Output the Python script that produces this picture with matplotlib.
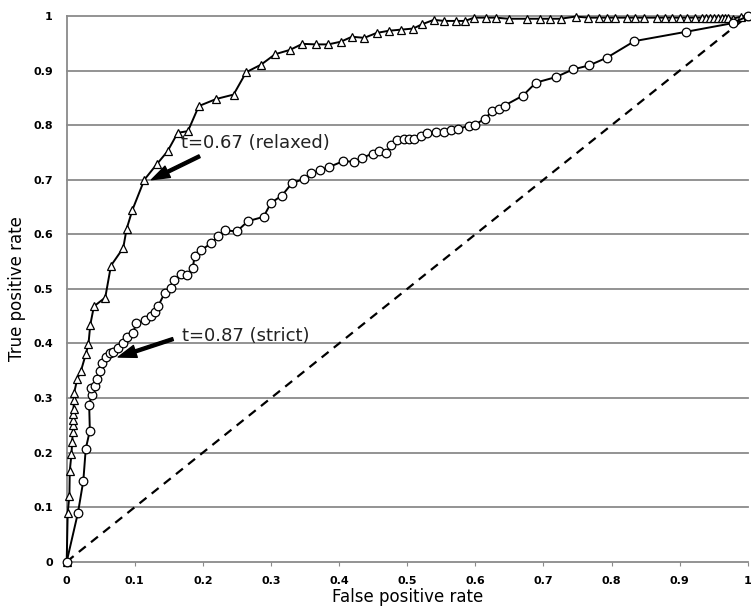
import matplotlib
matplotlib.use("Agg")
import matplotlib.pyplot as plt

# Relaxed classifier ROC (triangles)
relaxed_fpr = [0.0, 0.0015, 0.004, 0.0045, 0.007, 0.008, 0.009, 0.0095, 0.0095, 0.0098, 0.010, 0.0105, 0.011,
               0.0156, 0.021, 0.028, 0.032, 0.0346, 0.040, 0.0566, 0.065, 0.083, 0.088, 0.0966, 0.114,
               0.132, 0.148, 0.163, 0.178, 0.194, 0.2196, 0.245, 0.2635, 0.2855, 0.306, 0.328,
               0.346, 0.366, 0.384, 0.4026, 0.4187, 0.437, 0.455, 0.473, 0.4905, 0.5085, 0.522,
               0.539, 0.554, 0.571, 0.585, 0.598, 0.615, 0.63, 0.649, 0.676, 0.695, 0.71, 0.725,
               0.747, 0.766, 0.781, 0.793, 0.805, 0.822, 0.835, 0.847, 0.866, 0.878, 0.888, 0.9,
               0.91, 0.922, 0.932, 0.938, 0.944, 0.95, 0.956, 0.962, 0.966, 0.971, 0.978, 0.99, 1.0]
relaxed_tpr = [0.0, 0.09, 0.121, 0.166, 0.197, 0.219, 0.237, 0.25, 0.26, 0.27, 0.28, 0.297, 0.31,
               0.335, 0.35, 0.38, 0.399, 0.434, 0.468, 0.484, 0.5425, 0.575, 0.61, 0.645, 0.700,
               0.728, 0.752, 0.786, 0.789, 0.835, 0.848, 0.856, 0.897, 0.911, 0.930, 0.938,
               0.949, 0.948, 0.948, 0.953, 0.962, 0.960, 0.969, 0.973, 0.975, 0.977, 0.985,
               0.993, 0.991, 0.991, 0.991, 0.997, 0.997, 0.997, 0.995, 0.995, 0.995, 0.995, 0.995,
               0.999, 0.997, 0.997, 0.997, 0.997, 0.997, 0.997, 0.997, 0.997, 0.997, 0.997, 0.997,
               0.997, 0.997, 0.997, 0.997, 0.997, 0.997, 0.997, 0.997, 0.997, 0.997, 0.995, 0.999, 1.0]

# Strict classifier ROC (circles)
strict_fpr = [0.0, 0.0166, 0.0244, 0.028, 0.034, 0.033, 0.0366, 0.0356, 0.041, 0.045, 0.0488, 0.052,
              0.0575, 0.063, 0.068, 0.0756, 0.082, 0.089, 0.0976, 0.102, 0.1146, 0.124, 0.129,
              0.134, 0.144, 0.1527, 0.1576, 0.168, 0.1766, 0.185, 0.188, 0.1976, 0.2123, 0.222,
              0.2318, 0.25, 0.266, 0.289, 0.300, 0.316, 0.331, 0.349, 0.3587, 0.372, 0.3846,
              0.406, 0.422, 0.434, 0.449, 0.458, 0.469, 0.476, 0.4856, 0.495, 0.503, 0.51, 0.52,
              0.529, 0.542, 0.554, 0.564, 0.575, 0.590, 0.600, 0.614, 0.625, 0.634, 0.643,
              0.6696, 0.689, 0.718, 0.743, 0.767, 0.793, 0.8335, 0.909, 0.978, 1.0]
strict_tpr = [0.0, 0.09, 0.148, 0.207, 0.24, 0.2875, 0.3046, 0.318, 0.322, 0.335, 0.349, 0.365,
              0.376, 0.382, 0.385, 0.391, 0.40, 0.411, 0.420, 0.437, 0.442, 0.4495, 0.457,
              0.468, 0.4925, 0.5016, 0.5156, 0.528, 0.526, 0.538, 0.561, 0.5707, 0.584, 0.5963,
              0.607, 0.6055, 0.624, 0.632, 0.6576, 0.671, 0.694, 0.7016, 0.7114, 0.7175, 0.723,
              0.734, 0.733, 0.740, 0.748, 0.752, 0.749, 0.763, 0.772, 0.774, 0.774, 0.775, 0.780,
              0.785, 0.787, 0.788, 0.792, 0.793, 0.799, 0.801, 0.812, 0.826, 0.829, 0.836,
              0.854, 0.878, 0.888, 0.902, 0.9095, 0.9236, 0.954, 0.971, 0.987, 1.0]

tick_vals = [0, 0.1, 0.2, 0.3, 0.4, 0.5, 0.6, 0.7, 0.8, 0.9, 1]
tick_labels = ["0", "0.1", "0.2", "0.3", "0.4", "0.5", "0.6", "0.7", "0.8", "0.9", "1"]

fig = plt.figure(figsize=(7.51, 6.09), dpi=100)
ax = fig.add_axes([0.0888, 0.0777, 0.907, 0.896])

grid_c = "#8a8a8a"
for v in tick_vals[1:]:
    ax.axhline(v, color=grid_c, lw=1.3, zorder=1)

ax.plot([0, 1], [0, 1], ls=(0, (4, 3)), color="black", lw=1.6, zorder=2)
ax.plot(relaxed_fpr, relaxed_tpr, color="black", lw=1.4, marker="^", markersize=5.5,
        markerfacecolor="white", markeredgecolor="black", markeredgewidth=0.9, zorder=3)
ax.plot(strict_fpr, strict_tpr, color="black", lw=1.4, marker="o", markersize=6.2,
        markerfacecolor="white", markeredgecolor="black", markeredgewidth=0.9, zorder=3)

arrow = dict(facecolor="black", edgecolor="black", width=2.2, headwidth=9, headlength=13, shrink=0)
ax.text(0.168, 0.768, "t=0.67 (relaxed)", fontsize=13, color="#222222", va="center", ha="left", zorder=5)
ax.annotate("", xy=(0.1245, 0.700), xytext=(0.195, 0.743), arrowprops=arrow, zorder=5)
ax.text(0.170, 0.414, "t=0.87 (strict)", fontsize=13, color="#222222", va="center", ha="left", zorder=5)
ax.annotate("", xy=(0.0756, 0.375), xytext=(0.156, 0.408), arrowprops=arrow, zorder=5)

ax.set_xlim(0, 1)
ax.set_ylim(0, 1)
ax.set_xticks(tick_vals)
ax.set_xticklabels(tick_labels, fontsize=8, fontweight="bold")
ax.set_yticks(tick_vals)
ax.set_yticklabels(tick_labels, fontsize=8, fontweight="bold")
ax.tick_params(axis="x", direction="out", length=3, color=grid_c, pad=7)
ax.tick_params(axis="y", length=0, pad=10)
for s in ["top", "right"]:
    ax.spines[s].set_visible(False)
for s in ["left", "bottom"]:
    ax.spines[s].set_color(grid_c)
    ax.spines[s].set_linewidth(1.3)
ax.set_xlabel("False positive rate", fontsize=12, labelpad=2)
ax.set_ylabel("True positive rate", fontsize=12, labelpad=5)
for ln in ax.lines:
    ln.set_clip_on(False)

fig.savefig("out.png", dpi=100)
